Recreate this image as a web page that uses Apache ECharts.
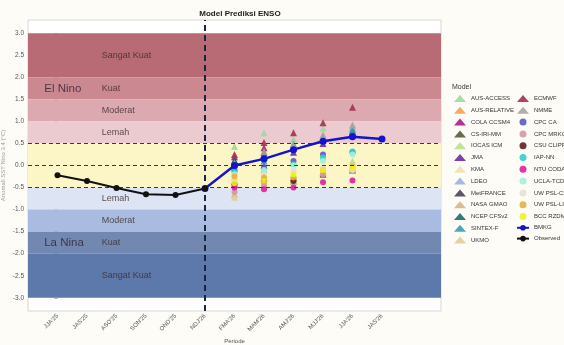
<!DOCTYPE html>
<html>
<head>
<meta charset="utf-8">
<script src="https://cdn.jsdelivr.net/npm/echarts@6/dist/echarts.min.js"></script>
<style>
  html, body { margin: 0; padding: 0; background: #fdfcf7; }
  #chart { width: 564px; height: 345px; }
</style>
</head>
<body>
<div id="chart"></div>
<script>
// Seasons on the x axis
const seasons = ["JJA'25", "JAS'25", "ASO'25", "SON'25", "OND'25", "NDJ'26",
                 "FMA'26", "MAM'26", "AMJ'26", "MJJ'26", "JJA'26", "JAS'26"];
// y-axis tick labels
const yTicks = [3.0, 2.5, 2.0, 1.5, 1.0, 0.5, 0.0, -0.5, -1.0, -1.5, -2.0, -2.5, -3.0];

// Observed index and BMKG forecast (one value per season)
const observed = [-0.22, -0.35, -0.51, -0.65, -0.67, -0.52, null, null, null, null, null, null];
const bmkg     = [null, null, null, null, null, -0.52, 0.00, 0.15, 0.36, 0.55, 0.65, 0.60];

// Model forecasts for the five seasons FMA'26 .. JJA'26
const forecastStart = 6;
const ausAccess   = [0.43, 0.74, 0.60, 0.85, 0.90];
const ausRelative = [-0.35, -0.27, -0.27, -0.15, -0.05];
const colaCcsm4   = [0.20, 0.40, 0.45, 0.60, 0.75];
const csIriMm     = [-0.43, -0.30, -0.35, -0.20, -0.10];
const iocasIcm    = [-0.27, -0.10, 0.05, 0.20, 0.10];
const jma         = [0.10, 0.00, 0.30, 0.50, 0.70];
const kma         = [-0.55, -0.40, -0.20, -0.05, 0.00];
const ldeo        = [-0.05, 0.20, 0.45, 0.65, 0.85];
const metFrance   = [0.05, 0.30, 0.40, 0.60, 0.75];
const nasaGmao    = [-0.65, -0.45, -0.30, -0.15, -0.05];
const ncepCfsv2   = [0.12, 0.25, 0.42, 0.58, 0.78];
const sintexF     = [0.02, 0.10, 0.48, 0.62, 0.82];
const ukmo        = [-0.72, -0.50, -0.35, null, null];
const ecmwf       = [0.25, 0.52, 0.74, 0.97, 1.32];
const nmme        = [0.05, 0.32, 0.50, 0.70, 0.92];
const cpcCa       = [-0.10, -0.05, 0.10, 0.25, 0.30];
const cpcMrkov    = [-0.60, -0.45, -0.30, -0.20, -0.10];
const csuClipr    = [-0.43, -0.35, -0.35, null, null];
const iapNn       = [-0.15, -0.13, 0.02, 0.18, 0.32];
const ntuCoda     = [-0.50, -0.54, -0.50, -0.38, -0.34];
const uclaTcd     = [-0.20, -0.10, 0.00, 0.10, 0.25];
const uwPslCslim  = [-0.30, -0.20, -0.10, -0.05, -0.10];
const uwPslLim    = [-0.25, -0.27, -0.27, -0.10, -0.02];
const bccRzdm     = [-0.40, -0.35, -0.20, -0.10, -0.05];

// ENSO strength thresholds: [lower, upper, label]
const elNinoBands = [[2.0, 3.0, 'Sangat Kuat'], [1.5, 2.0, 'Kuat'], [1.0, 1.5, 'Moderat'], [0.5, 1.0, 'Lemah']];
const neutralBand = [-0.5, 0.5];
const laNinaBands = [[-1.0, -0.5, 'Lemah'], [-1.5, -1.0, 'Moderat'], [-2.0, -1.5, 'Kuat'], [-3.0, -2.0, 'Sangat Kuat']];
const thresholdLines = [0.5, 0.0, -0.5];

// Styling for each band and each model
const elNinoColors = ['#b86b74', '#cb8890', '#dca9b0', '#ebcbd0'];
const neutralColor = '#fcf6c6';
const laNinaColors = ['#dde4f3', '#a9bbe0', '#7388b0', '#5d79ab'];

const models = [
  ['AUS-ACCESS', ausAccess, '#9fd8a0', 'triangle'],
  ['AUS-RELATIVE', ausRelative, '#f2a24f', 'triangle'],
  ['COLA CCSM4', colaCcsm4, '#b3197f', 'triangle'],
  ['CS-IRI-MM', csIriMm, '#5b5b3a', 'triangle'],
  ['IOCAS ICM', iocasIcm, '#b6e289', 'triangle'],
  ['JMA', jma, '#6d2c9c', 'triangle'],
  ['KMA', kma, '#eee0b4', 'triangle'],
  ['LDEO', ldeo, '#9db3d8', 'triangle'],
  ['MetFRANCE', metFrance, '#4e4262', 'triangle'],
  ['NASA GMAO', nasaGmao, '#d5b787', 'triangle'],
  ['NCEP CFSv2', ncepCfsv2, '#1f6b6b', 'triangle'],
  ['SINTEX-F', sintexF, '#379fb4', 'triangle'],
  ['UKMO', ukmo, '#e3cd96', 'triangle'],
  ['ECMWF', ecmwf, '#a3324f', 'triangle'],
  ['NMME', nmme, '#a6a698', 'triangle'],
  ['CPC CA', cpcCa, '#5a5ac6', 'circle'],
  ['CPC MRKOV', cpcMrkov, '#d498a6', 'circle'],
  ['CSU CLIPR', csuClipr, '#5c1f22', 'circle'],
  ['IAP-NN', iapNn, '#2fd0d0', 'circle'],
  ['NTU CODA', ntuCoda, '#de1fa0', 'circle'],
  ['UCLA-TCD', uclaTcd, '#a4f0dc', 'circle'],
  ['UW PSL-CSLIM', uwPslCslim, '#e4e2d2', 'circle'],
  ['UW PSL-LIM', uwPslLim, '#e6b23a', 'circle'],
  ['BCC RZDM', bccRzdm, '#f2ef22', 'circle']
];

const font = 'Liberation Sans';
const toPairs = arr => arr.map((v, i) => [i, v]).filter(p => p[1] !== null);

const bandAreas = [];
elNinoBands.forEach((b, i) => bandAreas.push([{ yAxis: b[0], itemStyle: { color: elNinoColors[i] } }, { yAxis: b[1] }]));
bandAreas.push([{ yAxis: neutralBand[0], itemStyle: { color: neutralColor } }, { yAxis: neutralBand[1] }]);
laNinaBands.forEach((b, i) => bandAreas.push([{ yAxis: b[0], itemStyle: { color: laNinaColors[i] } }, { yAxis: b[1] }]));

const bandLabelData = elNinoBands.concat(laNinaBands).map(b => ({ value: [1.5, (b[0] + b[1]) / 2], name: b[2] }));
const phaseLabelData = [
  { value: [-0.45, (elNinoBands[1][0] + elNinoBands[1][1]) / 2], name: 'El Nino' },
  { value: [-0.45, (laNinaBands[2][0] + laNinaBands[2][1]) / 2], name: 'La Nina' }
];

const series = [];

// Background bands and reference lines
series.push({
  type: 'line', data: [], silent: true,
  markArea: { silent: true, data: bandAreas },
  markLine: {
    silent: true, symbol: 'none', label: { show: false },
    data: thresholdLines.map(v => ({ yAxis: v, lineStyle: { color: '#3a3a30', type: [4, 3], width: 1 } }))
      .concat([{ xAxis: 5, lineStyle: { color: '#1b2440', type: [6, 4], width: 2 } }])
  },
  z: 1
});

// Band captions
series.push({
  type: 'scatter', data: bandLabelData, symbolSize: 0, silent: true, z: 3,
  label: { show: true, position: 'right', distance: 0, formatter: p => p.name,
           fontSize: 9, color: '#3a2a2a', fontFamily: font }
});
series.push({
  type: 'scatter', data: phaseLabelData, symbolSize: 0, silent: true, z: 3,
  label: { show: true, position: 'right', distance: 0, formatter: p => p.name,
           fontSize: 11.5, color: '#2a1f33', fontFamily: font }
});

// Model forecasts
models.forEach(m => {
  series.push({
    name: m[0], type: 'scatter',
    data: m[1].map((v, i) => [forecastStart + i, v]).filter(p => p[1] !== null),
    symbol: m[3], symbolSize: m[3] === 'triangle' ? 7 : 6,
    itemStyle: { color: m[2], opacity: 0.9 }, z: 4
  });
});

series.push({
  name: 'BMKG', type: 'line', data: toPairs(bmkg), symbol: 'circle', symbolSize: 7,
  lineStyle: { color: '#1414cc', width: 2.5 }, itemStyle: { color: '#1414cc' }, z: 6
});
series.push({
  name: 'Observed', type: 'line', data: toPairs(observed), symbol: 'circle', symbolSize: 6,
  lineStyle: { color: '#111', width: 2 }, itemStyle: { color: '#111' }, z: 7
});

const legendText = { fontSize: 6, color: '#333', fontFamily: font };
const legendCommon = { orient: 'vertical', top: 95, itemWidth: 12, itemHeight: 7, itemGap: 4.8,
                       textStyle: legendText, selectedMode: false, padding: 0 };

const option = {
  backgroundColor: '#fdfcf7',
  animation: false,
  textStyle: { fontFamily: font },
  title: [
    { text: 'Model Prediksi ENSO', left: 235, top: 5, textAlign: 'center',
      textStyle: { fontSize: 8, fontWeight: 'bold', color: '#222', fontFamily: font } },
    { text: 'Model', left: 452, top: 84, padding: 0,
      textStyle: { fontSize: 7, fontWeight: 'normal', color: '#333', fontFamily: font } }
  ],
  legend: [
    Object.assign({ left: 454, data: models.slice(0, 13).map(m => m[0]) }, legendCommon),
    Object.assign({ left: 516, data: models.slice(13).map(m => m[0]).concat(['BMKG', 'Observed']) }, legendCommon)
  ],
  grid: { left: 28, right: 123, top: 20, bottom: 34, show: true, backgroundColor: '#ffffff',
          borderColor: '#d6d6d6', borderWidth: 1, containLabel: false, outerBoundsMode: 'none' },
  xAxis: {
    type: 'value', min: -1, max: 13, interval: 1,
    name: 'Periode', nameLocation: 'middle', nameGap: 27, nameMoveOverlap: false,
    nameTextStyle: { fontSize: 6, color: '#555' },
    axisLine: { show: false },
    axisTick: { show: true, length: 3, lineStyle: { color: '#aaa' }, customValues: seasons.map((s, i) => i) },
    axisLabel: { rotate: 45, fontSize: 6, color: '#555', margin: 4,
                 customValues: seasons.map((s, i) => i), formatter: v => seasons[v] || '' },
    splitLine: { show: true, lineStyle: { color: 'rgba(255,255,255,0.28)', width: 1 } }
  },
  yAxis: {
    type: 'value', min: -3.3, max: 3.3,
    name: 'Anomali SST Nino 3.4 (°C)', nameLocation: 'middle', nameGap: 22, nameMoveOverlap: false,
    nameTextStyle: { fontSize: 6, color: '#999' },
    axisLine: { show: false },
    axisTick: { show: true, length: 3, lineStyle: { color: '#aaa' }, customValues: yTicks },
    axisLabel: { fontSize: 6.5, color: '#555', margin: 4, customValues: yTicks, formatter: v => v.toFixed(1) },
    splitLine: { show: false }
  },
  series: series
};

echarts.init(document.getElementById('chart')).setOption(option);
</script>
</body>
</html>
